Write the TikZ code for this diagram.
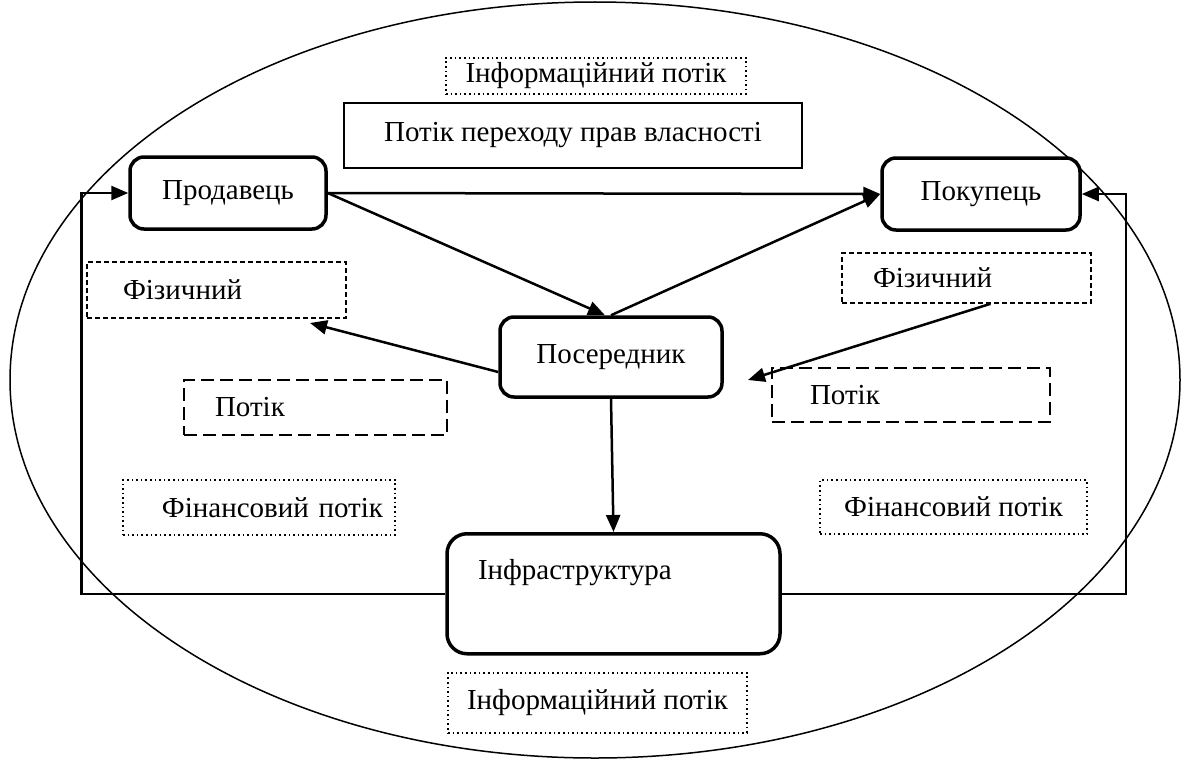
\documentclass[tikz,border=0pt]{standalone}
\usepackage{fontspec}
\setmainfont{Liberation Serif}
\usetikzlibrary{arrows.meta}

\tikzset{
	party/.style={rectangle, draw, line width=3.5pt, rounded corners=14pt, fill=white, inner sep=0pt},
	ownbox/.style={rectangle, draw, line width=2pt, fill=white, inner sep=0pt},
	shortdash/.style={rectangle, draw, line width=1.6pt, dash pattern=on 5pt off 3pt, fill=white},
	longdash/.style={rectangle, draw, line width=1.6pt, dash pattern=on 13pt off 6pt, fill=white},
	dotbox/.style={rectangle, draw, line width=1.6pt, dash pattern=on 1.6pt off 3pt, fill=white, inner sep=0pt},
	flow/.style={line width=2.5pt}
}

\begin{document}
\begin{tikzpicture}[x=1pt,y=-1pt,>={Triangle[length=17pt,width=14pt]},font=\fontsize{29}{33}\selectfont]
		\useasboundingbox (0,0) rectangle (1194,760);
		\draw[line width=1.5pt] (595,380) ellipse [x radius=585pt, y radius=378pt];

		\node[dotbox, minimum width=300pt, minimum height=36pt]	(infotop) 	at (596,76) 	{Інформаційний потік};
		\node[ownbox, minimum width=458pt, minimum height=65pt]	(owner) 	at (573,135.5) 	{Потік переходу прав власності};
		\node[party, minimum width=196pt, minimum height=72pt]	(seller) 	at (228,193) 	{Продавець};
		\node[party, minimum width=198pt, minimum height=72pt]	(buyer) 	at (981,194) 	{Покупець};
		\node[shortdash, minimum height=56pt, inner xsep=36pt, text width=187pt, align=left]	(physL) 	at (216.5,290) 	{Фізичний};
		\node[longdash, minimum height=55pt, inner xsep=31pt, text width=201pt, align=left]	(flowL) 	at (315.5,407.5) 	{Потік};
		\node[shortdash, minimum height=50pt, inner xsep=31pt, text width=187pt, align=left]	(physR) 	at (966.5,278) 	{Фізичний};
		\node[longdash, minimum height=54pt, inner xsep=38pt, text width=202pt, align=left]	(flowR) 	at (911,395) 	{Потік};
		\node[party, minimum width=222pt, minimum height=80pt]	(mediator) 	at (611,357) 	{Посередник};
		\node[dotbox, minimum height=55pt, inner xsep=12pt, text width=248pt, align=right]	(finL) 	at (259,507.5) 	{Фінансовий потік};
		\node[dotbox, minimum width=267pt, minimum height=54pt]	(finR) 	at (953.5,507) 	{Фінансовий потік};
		\node[party, rounded corners=20pt, anchor=north, inner ysep=0pt, inner xsep=31pt, text width=271pt, align=left, text height=46pt, text depth=74pt]	(infra) 	at (613.5,532) 	{Інфраструктура};
		\node[dotbox, minimum width=299pt, minimum height=60pt]	(infobot) 	at (597.5,703) 	{Інформаційний потік};

		\coordinate (physLend) at (310,323);
		\coordinate (flowRend) at (748,380);

		\path[->, flow]
			(seller.east)	edge 	(buyer.west)
			(seller.east)	edge 	([xshift=-6pt]mediator.north)
			(mediator.north)	edge 	(buyer.west)
			([yshift=-15pt]mediator.west)	edge 	(physLend)
			([xshift=24pt]physR.south)	edge 	(flowRend)
			(mediator.south)	edge 	(infra.north);
		\draw[->, flow] (infra.west) -- ++(-364,0) |- (seller.west);
		\draw[->, flow] (infra.east) -- ++(344,0) |- (buyer.east);
	\end{tikzpicture}
\end{document}
